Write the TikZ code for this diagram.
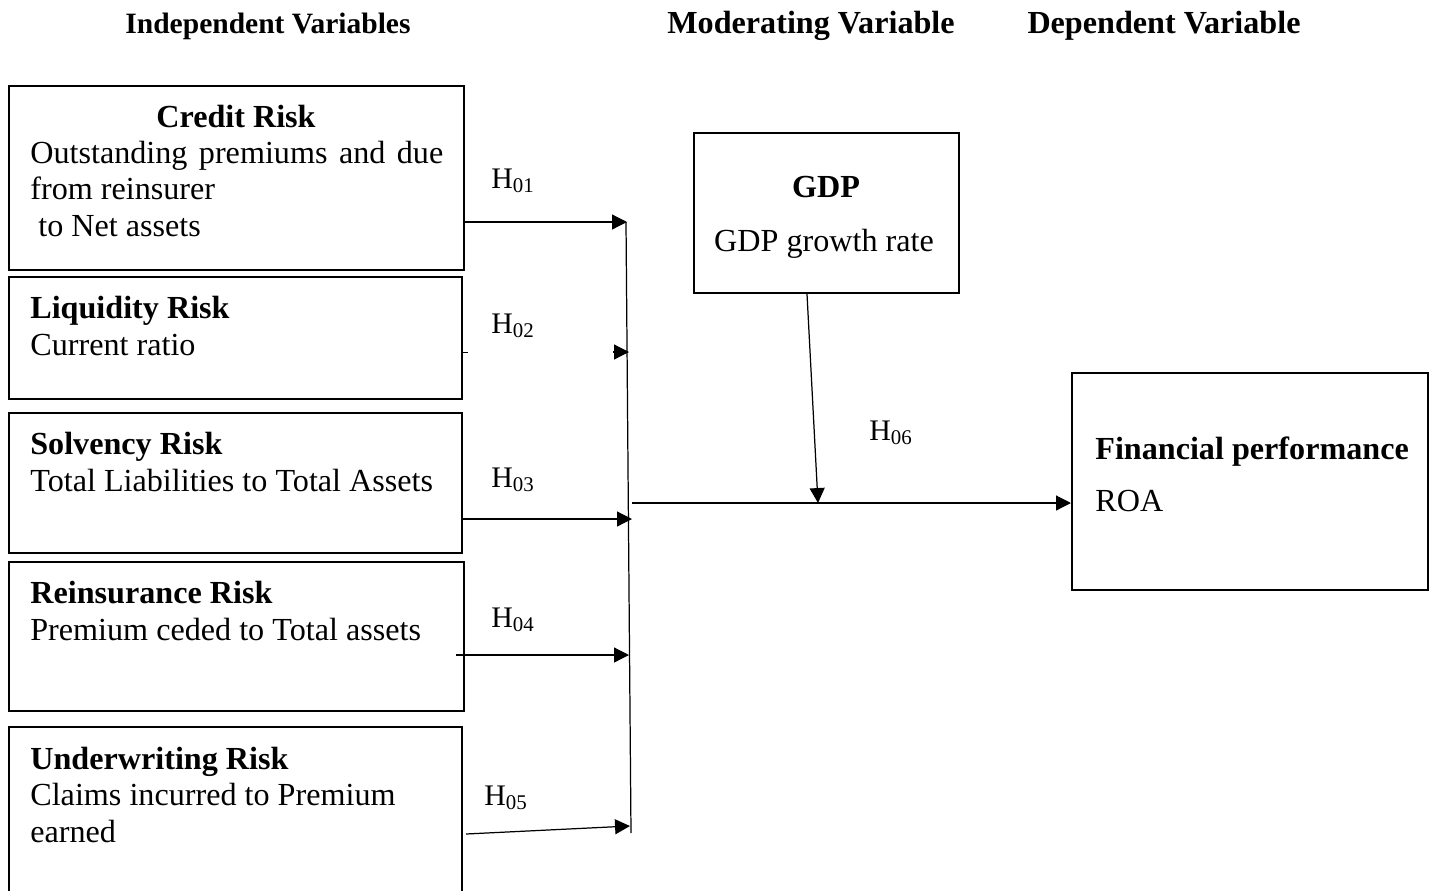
\documentclass[tikz,border=0pt]{standalone}
\usepackage{fontspec}
\setmainfont{Liberation Serif}
\usepackage{xcolor}
\usepackage{tikz}
\usetikzlibrary{arrows.meta, positioning, calc}

\begin{document}
\begin{tikzpicture}[x=0.02cm, y=-0.02cm,
    every node/.style={font=\fontsize{18.3}{20.6}\selectfont, inner sep=0pt},
    varbox/.style={draw, line width=1.2pt, rectangle},
    txt/.style={anchor=base west, align=left},
    head/.style={anchor=base, font=\fontsize{18.3}{20.6}\selectfont\bfseries},
    hyp/.style={anchor=base west, font=\fontsize{17}{20}\selectfont},
    arr/.style={-{Triangle[length=8.5pt, width=8.5pt]}, line width=0.7pt}]
        \clip (0,0) rectangle (1434,890);
        % Column headings
        \node[head, font=\fontsize{16.8}{20}\selectfont\bfseries] (hind) at (268,33) {Independent Variables};
        \node[head] (hmod) at (811,33) {Moderating Variable};
        \node[head] (hdep) at (1164,33) {Dependent Variable};
        % Independent variables (text nodes sit on the baseline of their last line)
        \node[varbox, minimum width=9.1cm, minimum height=3.68cm] (cred) at (236.5,178) {};
        \node[head] (credhd) at (236,127) {Credit Risk};
        \node[txt] (credtx) at (30,236) {\makebox[8.26cm][s]{Outstanding premiums and due}\\from reinsurer\\\ to Net assets};
        \node[varbox, minimum width=9.06cm, minimum height=2.44cm] (liq) at (235.5,338) {};
        \node[txt] (liqtx) at (30,355) {\textbf{Liquidity Risk}\\Current ratio};
        \node[varbox, minimum width=9.06cm, minimum height=2.8cm] (solv) at (235.5,483) {};
        \node[txt] (solvtx) at (30,491) {\textbf{Solvency Risk}\\Total Liabilities to Total Assets};
        \node[varbox, minimum width=9.1cm, minimum height=2.98cm] (reins) at (236.5,636.5) {};
        \node[txt] (reinstx) at (30,640) {\textbf{Reinsurance Risk}\\Premium ceded to Total assets};
        \node[varbox, minimum width=9.06cm, minimum height=3.5cm] (undw) at (235.5,814.5) {};
        \node[txt] (undwtx) at (30,842) {\textbf{Underwriting Risk}\\Claims incurred to Premium\\earned};
        % Moderating variable
        \node[varbox, minimum width=5.3cm, minimum height=3.2cm] (gdp) at (826.5,213) {};
        \node[head] (gdphd) at (826,197) {GDP};
        \node[anchor=base] (gdptx) at (824,251) {GDP growth rate};
        % Dependent variable
        \node[varbox, minimum width=7.12cm, minimum height=4.34cm] (fin) at (1250,481.5) {};
        \node[txt] (fintx) at (1095,511) {\textbf{Financial performance}\\[9pt]ROA};
        % Collecting line
        \coordinate (bustop) at (626,222);
        \coordinate (busbot) at (631,833);
        \draw[line width=0.7pt] (bustop) -- (busbot);
        \coordinate (h1) at (627,222);
        \coordinate (h2) at (629,352);
        \coordinate (h3) at (632,519);
        \coordinate (h4) at (629,655);
        \coordinate (h5) at (630,826);
        \coordinate (main) at (632,503);
        \coordinate (mod) at (818,503);
        % Hypotheses arrows
        \draw[arr] (cred.east |- h1) -- (h1);
        \draw[line width=0.5pt] (liq.east |- h2) -- ++(5,0);
        \draw[arr] ($(h2)+(-16,0)$) -- (h2);
        \draw[arr] (solv.east |- h3) -- (h3);
        \draw[arr] ($(reins.east |- h4)+(-9,0)$) -- (h4);
        \draw[arr] ($(undw.east |- h5)+(3,8)$) -- (h5);
        \draw[arr] (main) -- (fin.west |- main);
        \draw[arr] ($(gdp.south)+(-19.5,0)$) -- (mod);
        % Hypothesis labels
        \node[hyp] (l1) at (491,188) {H\textsubscript{01}};
        \node[hyp] (l2) at (491,333) {H\textsubscript{02}};
        \node[hyp] (l3) at (491,487) {H\textsubscript{03}};
        \node[hyp] (l4) at (491,627) {H\textsubscript{04}};
        \node[hyp] (l5) at (484,805) {H\textsubscript{05}};
        \node[hyp] (l6) at (869,440) {H\textsubscript{06}};
\end{tikzpicture}
\end{document}
